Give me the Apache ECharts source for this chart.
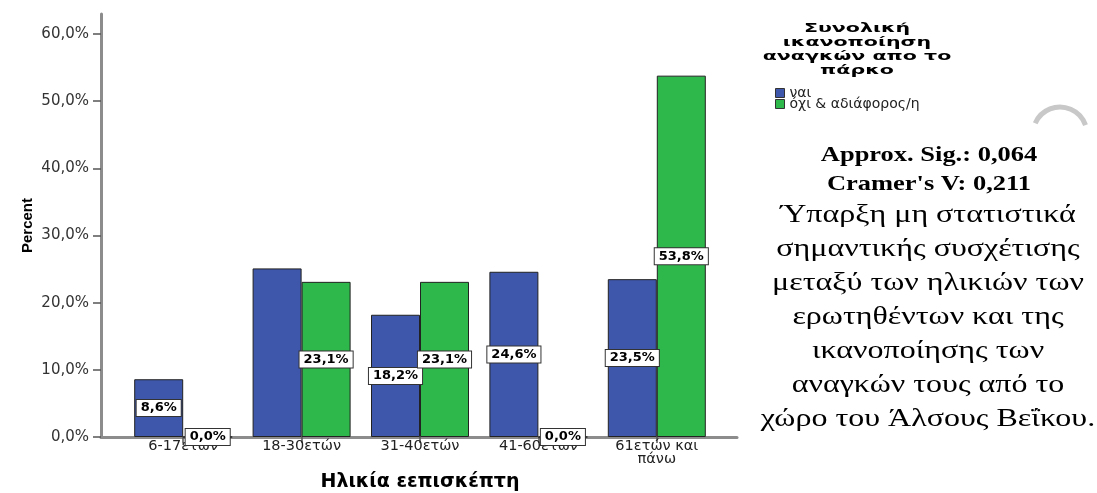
<!DOCTYPE html>
<html><head><meta charset="utf-8">
<script src="https://cdn.jsdelivr.net/npm/echarts@6/dist/echarts.min.js"></script>
<style>html,body{margin:0;padding:0;background:#fff}#c{width:1097px;height:493px}</style>
</head><body><div id="c"></div>
<script>
// ---- data ----
const categories = ['6-17ετών', '18-30ετών', '31-40ετών', '41-60ετών', '61ετών και\nπάνω'];
const seriesNames = ['ναι', 'όχι & αδιάφορος/η'];
const yesValues = [8.6, 25.1, 18.2, 24.6, 23.5];
const noValues = [0.0, 23.1, 23.1, 0.0, 53.8];
const yesLabelShown = [true, false, true, true, true];
const noLabelShown = [true, true, true, true, true];
const xAxisTitle = 'Ηλικία εεπισκέπτη';
const yAxisTitle = 'Percent';
const legendTitle = ['Συνολική', 'ικανοποίηση', 'αναγκών απο το', 'πάρκο'];
const statsBold = ['Approx. Sig.: 0,064', "Cramer's V: 0,211"];
const statsText = ['Ύπαρξη μη στατιστικά', 'σημαντικής συσχέτισης', 'μεταξύ των ηλικιών των',
  'ερωτηθέντων και της', 'ικανοποίησης των', 'αναγκών τους από το', 'χώρο του Άλσους Βεΐκου.'];

// ---- chart ----
const fmtPct = v => v.toFixed(1).replace('.', ',') + '%';
const barLabel = {
  show: true, position: 'inside', formatter: p => fmtPct(p.value),
  color: '#000', fontFamily: 'DejaVu Sans', fontWeight: 'bold', fontSize: 13,
  backgroundColor: '#fff', borderColor: '#333', borderWidth: 1, padding: [2, 4, 1, 4]
};
const mkData = (vals, shown) => vals.map((v, i) => shown[i] ? v : { value: v, label: { show: false } });
const axisGray = '#8c8c8c';

const chart = echarts.init(document.getElementById('c'), null, { renderer: 'canvas' });
chart.setOption({
  animation: false,
  backgroundColor: '#fff',
  color: ['#3E57AA', '#2EB84B'],
  grid: [
    { left: 124, top: 34, width: 592, height: 403, outerBoundsMode: 'none' },
    { left: 101, top: 14, width: 636, height: 423, outerBoundsMode: 'none' }
  ],
  xAxis: [
    {
      type: 'category', gridIndex: 0, data: categories,
      axisLine: { show: false },
      axisTick: { show: true, alignWithLabel: true, length: 6, lineStyle: { color: '#555', width: 1.5 } },
      axisLabel: { color: '#222', fontFamily: 'DejaVu Sans', fontSize: 14.5, margin: 3, lineHeight: 13 },
      name: xAxisTitle, nameLocation: 'middle', nameGap: 36,
      nameTextStyle: { color: '#000', fontFamily: 'DejaVu Sans', fontWeight: 'bold', fontSize: 19 }
    },
    {
      type: 'value', gridIndex: 1, min: 0, max: 1,
      axisLine: { show: true, lineStyle: { color: axisGray, width: 3 } },
      axisTick: { show: false }, axisLabel: { show: false }, splitLine: { show: false }
    }
  ],
  yAxis: [
    {
      type: 'value', gridIndex: 0, min: 0, max: 60, interval: 10, offset: 23,
      axisLine: { show: false },
      axisTick: { show: true, length: 8, lineStyle: { color: '#555', width: 1.5 } },
      axisLabel: { color: '#333', fontFamily: 'DejaVu Sans', fontSize: 15, margin: 12, formatter: v => fmtPct(v) },
      splitLine: { show: false }
    },
    {
      type: 'value', gridIndex: 1, min: 0, max: 1,
      axisLine: { show: true, lineStyle: { color: axisGray, width: 3 } },
      axisTick: { show: false }, axisLabel: { show: false }, splitLine: { show: false },
      name: yAxisTitle, nameLocation: 'middle', nameGap: 66,
      nameTextStyle: { color: '#000', fontFamily: 'Liberation Sans', fontWeight: 'bold', fontSize: 15 }
    }
  ],
  legend: {
    left: 775, top: 86, padding: 0, orient: 'vertical', itemWidth: 9, itemHeight: 9, itemGap: -3, icon: 'rect',
    data: seriesNames,
    textStyle: { fontFamily: 'DejaVu Sans', fontSize: 14, color: '#222', lineHeight: 11 },
    itemStyle: { borderColor: '#333', borderWidth: 1 }
  },
  series: [
    {
      name: seriesNames[0], type: 'bar', xAxisIndex: 0, yAxisIndex: 0,
      data: mkData(yesValues, yesLabelShown), barWidth: 49, barGap: '0%',
      itemStyle: { borderColor: '#222', borderWidth: 1 }, label: barLabel
    },
    {
      name: seriesNames[1], type: 'bar', xAxisIndex: 0, yAxisIndex: 0,
      data: mkData(noValues, noLabelShown), barWidth: 49, barGap: '0%',
      itemStyle: { borderColor: '#222', borderWidth: 1 }, label: barLabel
    }
  ],
  graphic: [
    {
      type: 'text', x: 857, y: 22, scaleX: 1.58,
      style: { text: legendTitle.join('\n'), fontFamily: 'DejaVu Sans', fontWeight: 'bold', fontSize: 13,
        lineHeight: 14, textAlign: 'center', textVerticalAlign: 'top', fill: '#000' }
    },
    {
      type: 'text', x: 929, y: 141, scaleX: 1.26,
      style: { text: statsBold.join('\n'), fontFamily: 'Liberation Serif', fontWeight: 'bold', fontSize: 21,
        lineHeight: 29, textAlign: 'center', textVerticalAlign: 'top', fill: '#000' }
    },
    {
      type: 'text', x: 928, y: 198, scaleX: 1.28,
      style: { text: statsText.join('\n'), fontFamily: 'Liberation Serif', fontSize: 25,
        lineHeight: 34, textAlign: 'center', textVerticalAlign: 'top', fill: '#000' }
    },
    {
      type: 'arc', shape: { cx: 1060, cy: 134, r: 27, startAngle: 3.55, endAngle: 5.95, clockwise: true },
      style: { stroke: '#c8c8c8', lineWidth: 5, fill: null }
    }
  ]
});
</script></body></html>
